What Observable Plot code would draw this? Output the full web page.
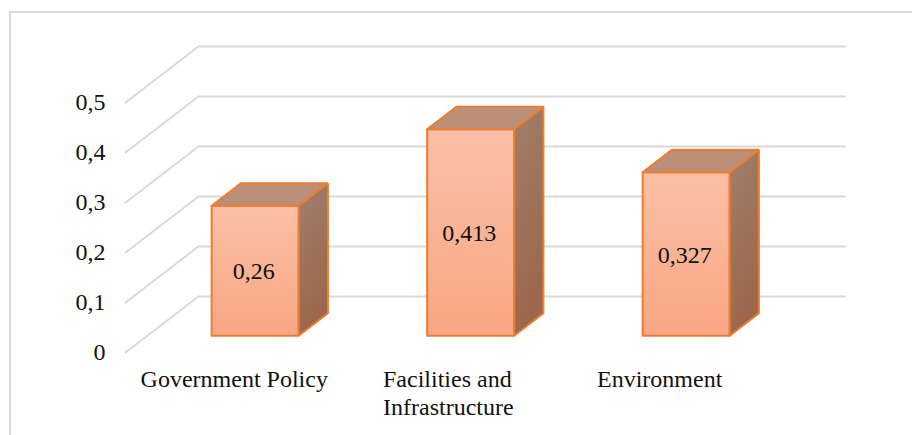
<!DOCTYPE html>
<html>
<head>
<meta charset="utf-8">
<script src="https://cdn.jsdelivr.net/npm/d3@7"></script>
<script src="https://cdn.jsdelivr.net/npm/@observablehq/plot@0.6"></script>
<style>
  html, body { margin: 0; padding: 0; background: #fff; }
  #chart { position: relative; width: 912px; height: 435px; overflow: hidden; }
  #chart svg { display: block; }
  /* Chart-area outline: only the top and left edges fall inside the page */
  #chart::after {
    content: ""; position: absolute; left: 9px; top: 11px; right: 0; bottom: 0;
    border-left: 2px solid #d9d9d9; border-top: 2px solid #d9d9d9;
  }
</style>
</head>
<body>
<div id="chart"></div>
<script>
const categories = ["Government Policy", "Facilities and\nInfrastructure", "Environment"];
const values = [0.26, 0.413, 0.327];
const valueLabels = ["0,26", "0,413", "0,327"];
const yTicks = [0, 0.1, 0.2, 0.3, 0.4, 0.5];
const yTickLabels = ["0", "0,1", "0,2", "0,3", "0,4", "0,5"];

// Oblique 3D: depth 0 is the front of the floor, depth 1 the back wall.
const depthX = 0.339;   // horizontal shift of full depth, in category slots
const depthY = 0.112;   // vertical shift of full depth, in value units
const slots = categories.length;
const barWidth = 0.404;
const barFrontDepth = 0.3;
const barBackDepth = 0.7;
// Left edge of each category label block, in category slots
const labelStart = [0.07, 1.195, 2.188];

const px = (slot, depth) => slot + depth * depthX;
const py = (value, depth) => value + depth * depthY;
const pt = (slot, value, depth, id) => ({x: px(slot, depth), y: py(value, depth), id});

// Grid: floor/side-wall diagonal followed by the back-wall line.
const grid = yTicks.flatMap((t) => [
  pt(0, t, 0, t),
  pt(0, t, 1, t),
  pt(slots, t, 1, t)
]);

const boxes = values.map((v, i) => {
  const l = i + (1 - barWidth) / 2;
  const r = l + barWidth;
  const f = barFrontDepth, b = barBackDepth;
  return {
    front: [pt(l, 0, f, i), pt(r, 0, f, i), pt(r, v, f, i), pt(l, v, f, i), pt(l, 0, f, i)],
    side: [pt(r, 0, f, i), pt(r, 0, b, i), pt(r, v, b, i), pt(r, v, f, i), pt(r, 0, f, i)],
    top: [pt(l, v, f, i), pt(r, v, f, i), pt(r, v, b, i), pt(l, v, b, i), pt(l, v, f, i)],
    cx: px(l + barWidth / 2, f),
    cy: py(v / 2, f)
  };
});

const face = (key, fill) => Plot.line(boxes.flatMap((d) => d[key]), {
  x: "x", y: "y", z: "id", fill, stroke: "#ed7d31", strokeWidth: 2,
  strokeLinejoin: "miter", curve: "linear"
});

const gradients = () => {
  const ns = "http://www.w3.org/2000/svg";
  const defs = document.createElementNS(ns, "defs");
  const add = (id, top, bottom, slant) => {
    const g = document.createElementNS(ns, "linearGradient");
    g.setAttribute("id", id);
    g.setAttribute("x1", 0); g.setAttribute("y1", 0);
    g.setAttribute("x2", slant); g.setAttribute("y2", 1);
    [[0, top], [1, bottom]].forEach(([o, c]) => {
      const s = document.createElementNS(ns, "stop");
      s.setAttribute("offset", o);
      s.setAttribute("stop-color", c);
      g.appendChild(s);
    });
    defs.appendChild(g);
  };
  add("faceFill", "#fac0a6", "#f9a683", 0);
  add("sideFill", "#a07f6c", "#9c674c", 0.3);
  return defs;
};

const plot = Plot.plot({
  width: 912,
  height: 435,
  marginTop: 102,
  marginBottom: 83,
  marginLeft: 125,
  marginRight: 140.5,
  style: {background: "#fff", fontFamily: "'Liberation Serif', serif", color: "#111"},
  x: {domain: [0, slots], axis: null},
  y: {domain: [0, 0.5], axis: null},
  marks: [
    gradients,
    Plot.line(grid, {x: "x", y: "y", z: "id", stroke: "#d9d9d9", strokeWidth: 2}),
    face("front", "url(#faceFill)"),
    face("side", "url(#sideFill)"),
    face("top", "#bb8f78"),
    Plot.text(boxes, {
      x: "cx", y: "cy", text: (d, i) => valueLabels[i], fontSize: 24, dx: -1.5, dy: 1, fill: "#111"
    }),
    Plot.text(yTicks, {
      x: 0, y: (d) => d, text: (d, i) => yTickLabels[i],
      textAnchor: "end", dx: -20, fontSize: 24, fill: "#111"
    }),
    Plot.text(categories, {
      x: (d, i) => labelStart[i], y: 0, text: (d) => d, textAnchor: "start",
      lineAnchor: "top", dy: 15, fontSize: 24, lineHeight: 1.15, fill: "#111"
    })
  ]
});
document.getElementById("chart").appendChild(plot);
</script>
</body>
</html>
